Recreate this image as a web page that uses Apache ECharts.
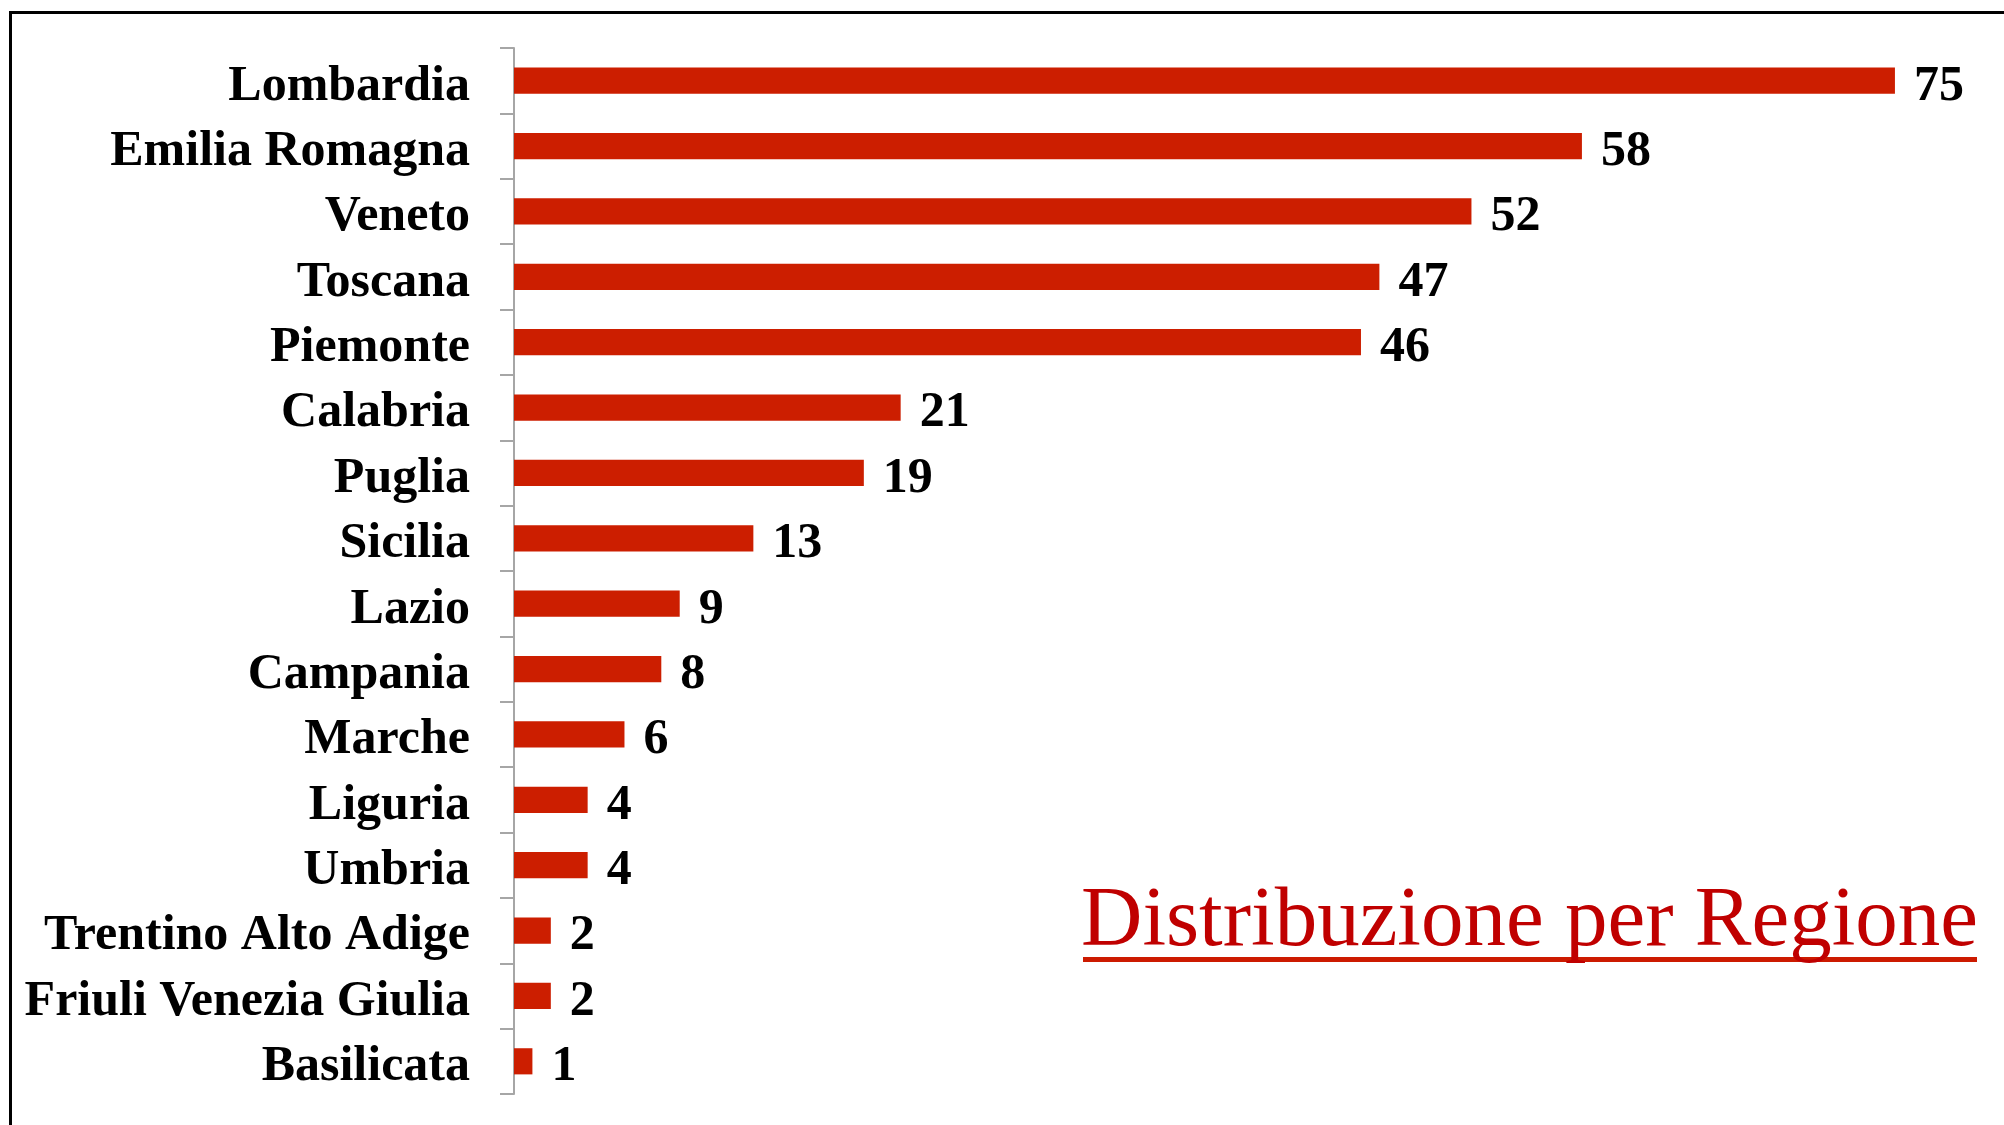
<!DOCTYPE html>
<html>
<head>
<meta charset="utf-8">
<script src="https://cdn.jsdelivr.net/npm/echarts@6/dist/echarts.min.js"></script>
<style>
  html, body { margin: 0; padding: 0; background: #fff; }
  #chart { width: 2004px; height: 1125px; }
  /* slide frame, only top and left edges are visible */
  #frame {
    position: absolute; left: 9px; top: 11px; width: 2100px; height: 1200px;
    border-left: 3px solid #000; border-top: 3px solid #000;
    pointer-events: none;
  }
</style>
</head>
<body>
<div id="chart"></div>
<div id="frame"></div>
<script>
// regioni, dall'alto verso il basso
var regioni = ['Lombardia', 'Emilia Romagna', 'Veneto', 'Toscana', 'Piemonte', 'Calabria', 'Puglia',
  'Sicilia', 'Lazio', 'Campania', 'Marche', 'Liguria', 'Umbria', 'Trentino Alto Adige',
  'Friuli Venezia Giulia', 'Basilicata']
var valori = [75, 58, 52, 47, 46, 21, 19, 13, 9, 8, 6, 4, 4, 2, 2, 1]
var titolo = 'Distribuzione per Regione'

var serif = "'Liberation Serif', 'DejaVu Serif', serif"

var myChart = echarts.init(document.getElementById('chart'))
myChart.setOption({
  animation: false,
  title: {
    text: titolo,
    right: 26,
    top: 880,
    padding: 0,
    textStyle: {
      fontFamily: serif,
      fontSize: 85,
      fontWeight: 'normal',
      color: '#c00000'
    }
  },
  graphic: [
    {
      type: 'rect',
      right: 27,
      top: 957,
      shape: { width: 894, height: 5 },
      style: { fill: '#cc1a00' }
    }
  ],
  grid: {
    left: 514,
    right: 17,
    top: 48,
    bottom: 31
  },
  xAxis: {
    type: 'value',
    min: 0,
    max: 80,
    show: false
  },
  yAxis: {
    type: 'category',
    inverse: true,
    data: regioni,
    axisLine: { show: true, lineStyle: { color: '#a6a6a6', width: 2 } },
    axisTick: { show: true, length: 14, lineStyle: { color: '#a6a6a6', width: 2 } },
    axisLabel: {
      margin: 44,
      formatter: '{r|{value}}',
      rich: {
        r: {
          padding: [12, 0, 0, 0],
          fontFamily: serif,
          fontSize: 50,
          fontWeight: 'bold',
          color: '#000'
        }
      }
    }
  },
  series: [
    {
      type: 'bar',
      data: valori,
      barWidth: '40%',
      itemStyle: { color: '#cc1e00' },
      label: {
        show: true,
        position: 'right',
        distance: 19,
        offset: [0, 6],
        fontFamily: serif,
        fontSize: 50,
        fontWeight: 'bold',
        color: '#000'
      }
    }
  ]
})
</script>
</body>
</html>
